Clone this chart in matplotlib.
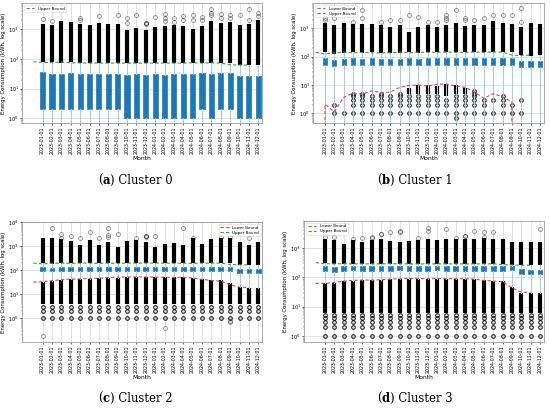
import matplotlib
matplotlib.use("Agg")
import matplotlib.pyplot as plt
import numpy as np

# ---------------- data ----------------
months = ['2023-01-01', '2023-02-01', '2023-03-01', '2023-04-01', '2023-05-01', '2023-06-01',
          '2023-07-01', '2023-08-01', '2023-09-01', '2023-10-01', '2023-11-01', '2023-12-01',
          '2024-01-01', '2024-02-01', '2024-03-01', '2024-04-01', '2024-05-01', '2024-06-01',
          '2024-07-01', '2024-08-01', '2024-09-01', '2024-10-01', '2024-11-01', '2024-12-01']

# Cluster 0
a_q1 = [2, 2, 2, 2, 2, 2, 2, 2, 2, 1, 1, 1, 1, 1, 1, 1, 1, 2, 1, 2, 2, 1, 1, 1]
a_med = [8, 8, 8, 8, 8, 8, 8, 8, 8, 6, 6, 6, 6, 6, 6, 6, 6, 8, 6, 8, 8, 5, 5, 5]
a_q3 = [35, 31, 31, 34, 31, 31, 30, 30, 30, 29, 30, 29, 30, 29, 30, 30, 30, 33, 30, 33, 34, 27, 26, 27]
a_upper = [80, 76, 75, 78, 74, 73, 72, 72, 72, 72, 72, 72, 72, 72, 72, 72, 72, 74, 72, 74, 72, 63, 62, 62]
a_top = [1480, 1370, 1900, 1780, 1480, 1370, 1560, 1500, 1480, 930, 1100, 930, 1200, 1300, 1400, 1300,
         1050, 1300, 1900, 1560, 1700, 1370, 1500, 2000]
a_sparse = [[2140], [1910], [], [], [2300, 2030], [], [2840], [], [3090], [2300, 1560], [3000],
            [1500, 1560, 1620], [2630], [3150, 2300, 1910], [2300, 1780], [2840, 2030], [3000, 2030],
            [2500, 2030], [4660, 3600, 3000], [3300, 2300], [3000, 2300], [3000], [4660, 2030], [3600, 2800]]

# Cluster 1
b_q1 = [51, 47, 51, 52, 51, 51, 51, 51, 51, 52, 51, 51, 52, 51, 52, 51, 51, 52, 51, 52, 52, 44, 43, 44]
b_med = [66, 60, 65, 68, 65, 66, 65, 65, 65, 68, 65, 67, 67, 67, 68, 66, 66, 68, 66, 68, 68, 56, 55, 56]
b_q3 = [87, 78, 85, 90, 85, 87, 85, 85, 85, 90, 85, 88, 88, 88, 90, 87, 87, 90, 87, 90, 90, 72, 70, 72]
b_upper = [142, 125, 136, 146, 136, 142, 136, 136, 136, 146, 136, 143, 143, 143, 146, 142, 142, 146,
           142, 146, 146, 114, 110, 114]
b_lower = [-4, 2.1, 1.15, 3.7, 5.1, 4.8, 6.3, 5.4, 5.7, 8.3, 9.7, 10, 9.2, 10.8, 10.8, 9.2, 8.3, 5.8,
           3.4, 5.0, 3.8, 2.6, -5, -3]
b_top = [1500, 1320, 1500, 1420, 1420, 1420, 1320, 1140, 1320, 760, 1140, 1320, 1140, 1320, 1500, 1200,
         1320, 1320, 1870, 1590, 1420, 1140, 1500, 1420]
b_sparse = [[2240, 1970], [2240], [], [1730], [4450, 2240], [], [1730], [1970], [1970], [2950], [2580],
            [1730], [1730], [2950, 2240, 1970], [4450], [2240, 1970], [1970], [2240], [2950], [2950],
            [2950], [5100, 1730], [], []]
b_low_pts = [[], [1, 2], [1], [1, 2, 3, 4, 5], [1, 2, 3, 4, 5], [1, 2, 3, 4], [1, 2, 3, 4, 5],
             [1, 2, 3, 4], [1, 2, 3, 4, 5], [1, 2, 3, 4], [1, 2, 3, 4], [1, 2, 3, 4], [1, 2, 3, 4],
             [1, 2, 3], [0.7, 1, 2, 3, 4], [1, 2, 3, 4], [1, 2, 3, 4, 5, 6], [1, 2, 3], [1, 3],
             [1, 2, 3, 4], [1, 2], [1, 3], [], []]
nan = float('nan')
b_low_dense_lo = [nan, nan, nan, nan, nan, nan, nan, nan, nan, 5, 5, 5, 5, 4, 5, 5,
                  nan, nan, nan, nan, nan, nan, nan, nan]
b_low_dense_hi = [nan, nan, nan, nan, nan, nan, nan, nan, nan, 8, 10, 10, 9, 11, 10, 8,
                  nan, nan, nan, nan, nan, nan, nan, nan]

# Cluster 2
c_q1 = [95, 90, 93, 95, 93, 95, 95, 93, 95, 93, 95, 95, 95, 95, 95, 93, 95, 93, 95, 95, 95, 80, 78, 80]
c_med = [115, 108, 113, 117, 113, 115, 115, 113, 117, 113, 115, 115, 117, 115, 115, 113, 115, 113,
         115, 115, 117, 96, 93, 96]
c_q3 = [140, 130, 138, 142, 138, 140, 140, 138, 142, 138, 140, 140, 142, 140, 140, 138, 140, 138,
        140, 140, 142, 115, 110, 115]
c_upper = [200, 185, 195, 200, 195, 200, 200, 195, 200, 195, 200, 200, 200, 200, 200, 195, 200, 195,
           200, 200, 200, 175, 170, 170]
c_lower = [32, 34, 37, 41, 43, 44, 46, 47, 50, 52, 53, 53, 53, 52, 52, 51, 51, 48, 42, 38, 35, 25, 20, 19]
c_top = [2150, 2300, 2030, 1660, 1140, 1830, 1140, 1560, 970, 1660, 1830, 1500, 970, 1210, 1330, 1140,
         2150, 1210, 2030, 2150, 2150, 1560, 1140, 1470]
c_sparse = [[0.19], [5600], [3150, 2300], [2700], [2150], [3800], [2200], [6000, 3000, 2500], [3200], [],
            [2200], [2750, 2600, 2500], [2750], [0.41], [], [5600], [2300], [], [], [2400],
            [2500, 0.77, 0.68], [], [2300], []]
c_low_top = [34, 36, 40, 42, 44, 45, 46, 48, 50, 52, 53, 53, 53, 52, 52, 51, 50, 45, 40, 38, 30, 20, 19, 19]
c_low_bot = 4
c_low_rows = [1, 2, 3]

# Cluster 3
d_q1 = [165, 155, 165, 170, 165, 168, 168, 165, 170, 165, 168, 168, 170, 168, 168, 165, 168, 165,
        168, 168, 170, 130, 125, 128]
d_med = [200, 185, 198, 205, 198, 200, 200, 198, 205, 198, 200, 200, 205, 200, 200, 198, 200, 198,
         200, 200, 205, 155, 148, 152]
d_q3 = [240, 220, 235, 245, 235, 240, 240, 235, 245, 235, 240, 240, 245, 240, 240, 235, 240, 235,
        240, 240, 245, 185, 175, 180]
d_upper = [317, 290, 285, 290, 285, 285, 285, 285, 290, 285, 285, 285, 285, 285, 285, 285, 285, 285,
           285, 285, 270, 262, 258, 255]
d_lower = [62, 62, 66, 74, 78, 80, 80, 82, 86, 89, 90, 90, 90, 90, 89, 89, 88, 86, 78, 74, 70, 44, 31, 30]
d_top = [2090, 1820, 1400, 1820, 1590, 1820, 2090, 1690, 1590, 1690, 1820, 2090, 1820, 1990, 2090, 2090,
         2090, 2220, 2090, 2090, 1540, 1590, 1590, 1590]
d_sparse = [[2360], [2360], [], [2000], [2230], [2360, 2100], [3080, 3000], [3500], [3700, 3600], [],
            [2230], [4800, 3700], [], [4330], [2230], [2560, 2500], [3800], [3500, 2400], [3400], [],
            [], [], [], [4330]]
d_low_top = [64, 66, 72, 76, 80, 80, 82, 85, 88, 90, 90, 90, 90, 89, 89, 88, 86, 80, 75, 72, 48, 30, 30, 28]
d_low_bot = 6
d_low_rows = [1, 2, 3, 4, 5]

# ---------------- drawing ----------------
W, H = 550, 408
fig = plt.figure(figsize=(W / 100, H / 100), dpi=100)

BOX_C = '#1f77b4'
WHISK_C = '#a9cbe6'
GREEN = '#3a9f3a'
RED = '#e0474c'
DENSE_LW = 3.0


def rect(l, r, t, b):
    return [l / W, 1 - b / H, (r - l) / W, (b - t) / H]


def panel(ax, q1, med, q3, whislo, upper, top, sparse, lower=None, low_top=None, low_bot=None,
          low_pts=None, low_dense_lo=None, low_dense_hi=None, width=0.5, legend_loc='upper left',
          ylim=(1, 1e4), xlim=(-1, 24.5)):
    ax.set_yscale('log', nonpositive='clip')
    n = len(months)
    pos = np.arange(1, n + 1)
    stats = []
    for i in range(n):
        stats.append(dict(q1=q1[i], med=med[i], q3=q3[i],
                          whislo=whislo[i], whishi=upper[i], fliers=sparse[i]))
    ax.bxp(stats, positions=pos, widths=width, patch_artist=True, showcaps=False,
           boxprops=dict(facecolor=BOX_C, edgecolor=BOX_C, linewidth=0.5),
           whiskerprops=dict(color=WHISK_C, linewidth=0.8),
           medianprops=dict(color=BOX_C, linewidth=0.5),
           flierprops=dict(marker='o', markerfacecolor='none', markeredgecolor='black',
                           markersize=2.8, markeredgewidth=0.55, alpha=0.5),
           zorder=3)
    # dense upper outliers
    ax.vlines(pos, upper, top, color='black', linewidth=DENSE_LW, zorder=2.5)
    if low_top is not None:
        ax.vlines(pos, low_bot, low_top, color='black', linewidth=DENSE_LW, zorder=2.5)
    if low_dense_lo is not None:
        ax.vlines(pos, low_dense_lo, low_dense_hi, color='black', linewidth=DENSE_LW, zorder=2.5)
    if low_pts is not None:
        for p, pts in zip(pos, low_pts):
            if len(pts):
                ax.plot([p] * len(pts), pts, 'o', mfc='none', mec='black', ms=2.6, mew=0.8,
                        alpha=0.85, zorder=2.6)
    x_line = np.arange(n)
    if lower is not None:
        ax.plot(x_line, lower, color=RED, linestyle=(0, (3, 2)), linewidth=0.8,
                label='Lower Bound', zorder=4)
    ax.plot(x_line, upper, color=GREEN, linestyle=(0, (3, 2)), linewidth=0.8,
            label='Upper Bound', zorder=4)
    ax.set_xlim(*xlim)
    ax.set_ylim(*ylim)
    ax.set_xticks(pos)
    ax.set_xticklabels(months, rotation=90, fontsize=3.4)
    ax.tick_params(axis='y', labelsize=3.6, length=1.5, width=0.4, which='major', pad=1)
    ax.tick_params(axis='y', length=0.8, width=0.3, which='minor')
    ax.tick_params(axis='x', length=1.5, width=0.4, pad=1)
    ax.grid(True, which='major', color='#cfd6dd', linewidth=0.5)
    ax.set_axisbelow(True)
    for s in ax.spines.values():
        s.set_color('#9a9a9a')
        s.set_linewidth(0.6)
    ax.set_xlabel('Month', fontsize=4.3, labelpad=1.5)
    ax.set_ylabel('Energy Consumption (kWh, log scale)', fontsize=3.9, labelpad=1.5)
    leg = ax.legend(loc=legend_loc, fontsize=2.9, frameon=True, handlelength=2.2,
                    borderpad=0.4, labelspacing=0.3, borderaxespad=0.4)
    leg.get_frame().set_linewidth(0.4)
    leg.get_frame().set_edgecolor('#cccccc')


zeros = [0] * len(months)

ax_a = fig.add_axes(rect(22.3, 262.3, 3.3, 123.3))
panel(ax_a, a_q1, a_med, a_q3, zeros, a_upper, a_top, a_sparse, width=0.55,
      ylim=(0.68, 7400), xlim=(-1.17, 24.43))

ax_b = fig.add_axes(rect(313.3, 544.3, 3.3, 123.3))
panel(ax_b, b_q1, b_med, b_q3, zeros, b_upper, b_top, b_sparse, lower=b_lower,
      low_pts=b_low_pts, low_dense_lo=b_low_dense_lo, low_dense_hi=b_low_dense_hi,
      width=0.45, ylim=(0.45, 7600), xlim=(-0.25, 24.47))

ax_c = fig.add_axes(rect(22.3, 262.3, 222.3, 341.7))
panel(ax_c, c_q1, c_med, c_q3, c_low_top, c_upper, c_top, c_sparse, lower=c_lower,
      low_top=c_low_top, low_bot=c_low_bot,
      low_pts=[c_low_rows] * len(months), width=0.5, legend_loc='upper right',
      ylim=(0.107, 1e4), xlim=(-1.17, 24.43))

ax_d = fig.add_axes(rect(304.3, 544.3, 221.0, 342.3))
panel(ax_d, d_q1, d_med, d_q3, d_low_top, d_upper, d_top, d_sparse, lower=d_lower,
      low_top=d_low_top, low_bot=d_low_bot,
      low_pts=[d_low_rows] * len(months), width=0.5,
      ylim=(0.6, 8300), xlim=(-1.21, 24.47))

# captions with bold letter
captions = [('a', 'Cluster 0', 135, 180), ('b', 'Cluster 1', 415, 180),
            ('c', 'Cluster 2', 135, 398), ('d', 'Cluster 3', 415, 398)]
renderer = fig.canvas.get_renderer()
CAP_FONT = 'DejaVu Serif'
CAP_SIZE = 8.4
for letter, rest, cx, cy in captions:
    pieces = [('(', 'normal'), (letter, 'bold'), (') ' + rest, 'normal')]
    texts = []
    widths = []
    for s, wgt in pieces:
        t = fig.text(0, 0, s, fontsize=CAP_SIZE, family=CAP_FONT, fontweight=wgt,
                     ha='left', va='center')
        bb = t.get_window_extent(renderer=renderer)
        texts.append(t)
        widths.append(bb.width)
    total = sum(widths)
    x = cx - total / 2
    for t, w in zip(texts, widths):
        t.set_position((x / W, 1 - cy / H))
        x += w

fig.savefig('out.png', dpi=100)
